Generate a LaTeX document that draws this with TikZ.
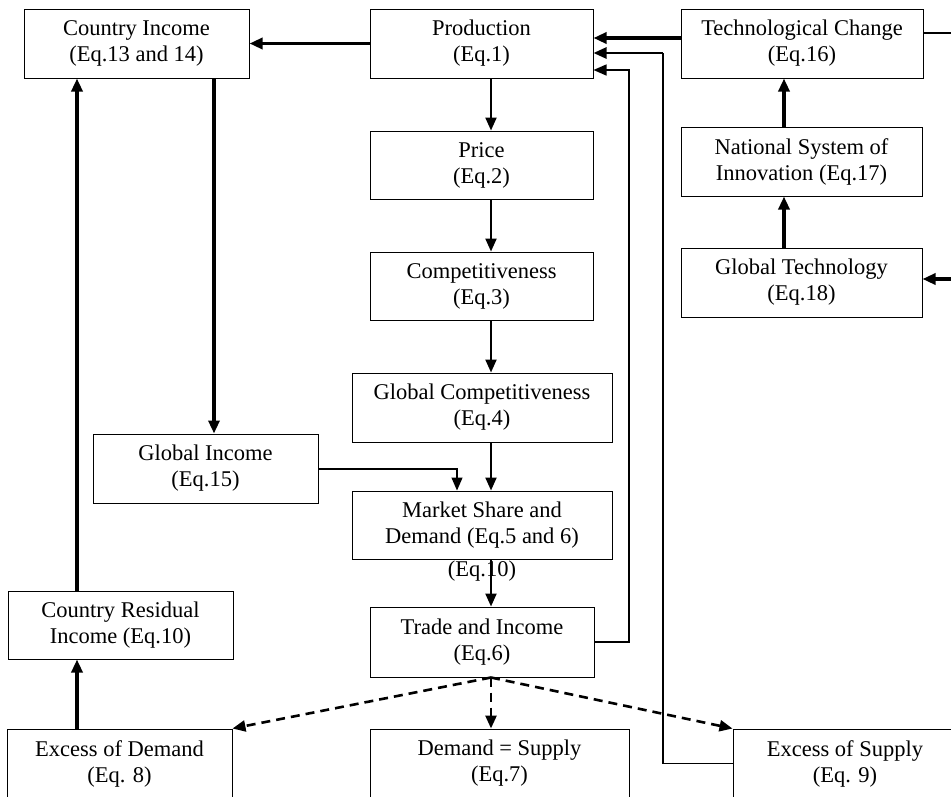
\documentclass[tikz,border=0pt]{standalone}
\usepackage{fontspec}
\setmainfont{Liberation Serif}
\usetikzlibrary{arrows.meta}
\begin{document}
\begin{tikzpicture}[x=1pt,y=-1pt,
  box/.style={draw,line width=1pt,align=center,inner sep=0pt,fill=white,
    font=\fontsize{22.5}{26}\selectfont},
  tip/.style={-{Triangle[length=13pt,width=11pt]}},
  thickarr/.style={tip,line width=3.2pt},
  medarr/.style={tip,line width=2.2pt},
  thinarr/.style={tip,line width=1.2pt},
  thinline/.style={line width=1.2pt},
  dasharr/.style={-{Triangle[length=13pt,width=11pt]},line width=2.6pt,dash pattern=on 9pt off 6pt}
]
\useasboundingbox (0,0) rectangle (951,796);
\clip (0,0) rectangle (951,796);
% boxes
\node[box,minimum width=225pt,minimum height=69pt] (ci) at (136.5,43.5) {Country Income\\(Eq.13 and 14)};
\node[box,minimum width=223pt,minimum height=69pt] (prod) at (481.5,43.5) {Production\\(Eq.1)};
\node[box,minimum width=242pt,minimum height=69pt] (tc) at (802,43.5) {Technological Change\\(Eq.16)};
\node[box,minimum width=223pt,minimum height=68pt] (price) at (481.5,165) {Price\\(Eq.2)};
\node[box,minimum width=223pt,minimum height=68pt] (comp) at (481.5,286) {Competitiveness\\(Eq.3)};
\node[box,minimum width=260pt,minimum height=69pt] (gcomp) at (482,407.5) {Global Competitiveness\\(Eq.4)};
\node[box,minimum width=225pt,minimum height=69pt] (gi) at (205.5,468.5) {Global Income\\(Eq.15)};
\node[box,minimum width=260pt,minimum height=68pt] (ms) at (482,525) {Market Share and\\Demand (Eq.5 and 6)};
\node[font=\fontsize{22.5}{26}\selectfont,inner sep=0pt] (stray) at (482,571) {(Eq.10)};
\node[box,minimum width=224pt,minimum height=70pt] (tr) at (482,642) {Trade and Income\\(Eq.6)};
\node[box,minimum width=241pt,minimum height=69pt] (nsi) at (801.5,161.5) {National System of\\Innovation (Eq.17)};
\node[box,minimum width=241pt,minimum height=69pt] (gt) at (801.5,282.5) {Global Technology\\(Eq.18)};
\node[box,minimum width=225pt,minimum height=68pt] (cri) at (120.5,625) {Country Residual\\Income (Eq.10)};
\node[box,minimum width=225pt,minimum height=69pt] (ed) at (119.5,763.5) {Excess of Demand\\(Eq. 8)};
\node[box,minimum width=259pt,minimum height=69pt] (ds) at (499.5,763.5) {Demand = Supply\\(Eq.7)};
\node[box,minimum width=224pt,minimum height=69pt] (es) at (845,763.5) {Excess of Supply\\(Eq. 9)};
% helper coordinates
\coordinate (spine) at (491,0);
\coordinate (x214) at (214,0);
\coordinate (x77) at (77,0);
\coordinate (x784) at (784,0);
\coordinate (k1) at (629,70);
\coordinate (k2) at (663,53);
\coordinate (k3) at (681,38);
\coordinate (k4) at (457,469);
\coordinate (re) at (951,279);
\coordinate (re2) at (951,33);
% connectors
\draw[thickarr] (prod.west) -- (ci.east);
\draw[thickarr] (ci.south -| x214) -- (gi.north -| x214);
\draw[medarr] (prod.south -| spine) -- (price.north -| spine);
\draw[medarr] (price.south -| spine) -- (comp.north -| spine);
\draw[medarr] (comp.south -| spine) -- (gcomp.north -| spine);
\draw[medarr] (gcomp.south -| spine) -- (ms.north -| spine);
\draw[medarr] (ms.south -| spine) -- (tr.north -| spine);
\draw[thinarr] (gi.east |- k4) -- (k4) -- (k4 |- ms.north);
\draw[thickarr] (cri.north -| x77) -- (ci.south -| x77);
\draw[thickarr] (ed.north -| x77) -- (cri.south -| x77);
\draw[thinarr,line width=1.4pt] (tr.east) -| (k1) -- (k1 -| prod.east);
\draw[thinline,line width=1.5pt] (es.west) -| (k2);
\draw[thickarr,line width=2.6pt] (k2) -- (k2 -| prod.east);
\draw[thickarr] (tc.west |- k3) -- (prod.east |- k3);
\draw[thickarr] (nsi.north -| x784) -- (tc.south -| x784);
\draw[thickarr] (gt.north -| x784) -- (nsi.south -| x784);
\draw[thickarr] (re) -- (re -| gt.east);
\draw[thinline] (tc.east |- re2) -- (re2);
\draw[dasharr] (tr.south -| spine) -- (ed.north east);
\draw[dasharr] (tr.south -| spine) -- (ds.north -| spine);
\draw[dasharr] (tr.south -| spine) -- (es.north west);
\end{tikzpicture}
\end{document}
